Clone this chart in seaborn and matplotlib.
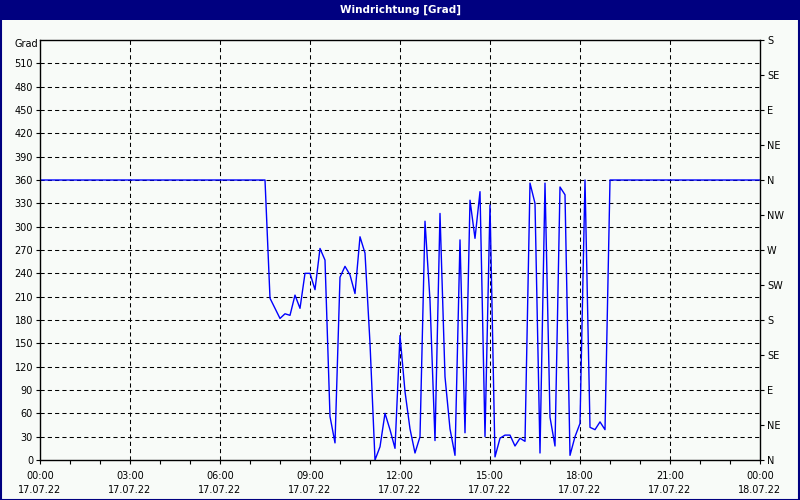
import matplotlib
matplotlib.use("Agg")
import matplotlib.pyplot as plt
import seaborn as sns
import pandas as pd
from matplotlib.patches import Rectangle

# ---- data ----
times = ["00:00", "07:30", "07:40", "07:50", "08:00", "08:10", "08:20", "08:30", "08:40",
         "08:50", "09:00", "09:10", "09:20", "09:30", "09:40", "09:50", "10:00", "10:10",
         "10:20", "10:30", "10:40", "10:50", "11:00", "11:10", "11:20", "11:30", "11:40",
         "11:50", "12:00", "12:10", "12:20", "12:30", "12:40", "12:50", "13:00", "13:10",
         "13:20", "13:30", "13:40", "13:50", "14:00", "14:10", "14:20", "14:30", "14:40",
         "14:50", "15:00", "15:10", "15:20", "15:30", "15:40", "15:50", "16:00", "16:10",
         "16:20", "16:30", "16:40", "16:50", "17:00", "17:10", "17:20", "17:30", "17:40",
         "17:50", "18:00", "18:10", "18:20", "18:30", "18:40", "18:50", "19:00", "24:00"]
direction = [360, 360, 208, 195, 182, 188, 186, 212, 195,
             240, 240, 219, 272, 257, 56, 22, 235, 249,
             238, 214, 287, 266, 150, 0, 17, 60, 39,
             15, 160, 88, 40, 9, 30, 307, 205, 25,
             317, 107, 40, 6, 283, 35, 334, 285, 345,
             30, 328, 4, 28, 32, 32, 18, 28, 24,
             356, 330, 9, 356, 55, 18, 351, 341, 6,
             30, 47, 360, 42, 39, 49, 39, 360, 360]

y_ticks = list(range(0, 511, 30))
x_tick_hours = list(range(0, 25, 3))
x_tick_labels = ["00:00\n17.07.22", "03:00\n17.07.22", "06:00\n17.07.22", "09:00\n17.07.22",
                 "12:00\n17.07.22", "15:00\n17.07.22", "18:00\n17.07.22", "21:00\n17.07.22",
                 "00:00\n18.07.22"]
compass_ticks = list(range(0, 541, 45))
compass_labels = ["N", "NE", "E", "SE", "S", "SW", "W", "NW", "N", "NE", "E", "SE", "S"]
title = "Windrichtung [Grad]"
unit = "Grad"

# ---- figure ----
sns.set_style("white")
plt.rcParams["font.family"] = ["DejaVu Sans"]
plt.rcParams["text.color"] = "black"
plt.rcParams["xtick.color"] = "black"
plt.rcParams["ytick.color"] = "black"

hours = [int(t.split(":")[0]) + int(t.split(":")[1]) / 60 for t in times]
df = pd.DataFrame({"hour": hours, "deg": direction})

bg = "#F8FBF8"
navy = "#000080"
fig = plt.figure(figsize=(8, 5), dpi=100, facecolor=bg)
ax = fig.add_axes([0.05, 0.08, 0.9, 0.84], facecolor=bg)

sns.lineplot(data=df, x="hour", y="deg", ax=ax, color="#0000FF", linewidth=1.0,
             estimator=None, sort=False)

ax.set_xlim(0, 24)
ax.set_ylim(0, 540)
ax.set_xlabel("")
ax.set_ylabel("")

dash = (0, (4, 3))
for v in y_ticks[1:]:
    ax.axhline(v, color="black", lw=0.75, linestyle=dash, zorder=0)
for h in x_tick_hours[1:-1]:
    ax.axvline(h, color="black", lw=0.75, linestyle=dash, zorder=0)

ax.set_yticks(y_ticks)
ax.set_yticklabels([str(v) for v in y_ticks], fontsize=7, color="black")
ax.set_xticks(x_tick_hours)
ax.set_xticks(range(0, 25), minor=True)
ax.set_xticklabels(x_tick_labels, fontsize=7, linespacing=1.5, color="black")
ax.tick_params(axis="both", which="both", direction="out", length=3, width=0.8,
               color="black", labelcolor="black", pad=2, left=True, bottom=True)
ax.tick_params(axis="x", which="major", pad=5)
for s in ax.spines.values():
    s.set_color("black")
    s.set_linewidth(1.0)
    s.set_visible(True)

ax2 = ax.twinx()
ax2.set_ylim(0, 540)
ax2.set_yticks(compass_ticks)
ax2.set_yticklabels(compass_labels, fontsize=7, color="black")
ax2.tick_params(axis="y", direction="out", length=3, width=0.8, color="black",
                labelcolor="black", pad=2, right=True)
for s in ax2.spines.values():
    s.set_visible(False)

fig.text(38 / 800, 1 - 44 / 500, unit, ha="right", va="center", fontsize=7, color="black")

# title bar and border
fig.patches.append(Rectangle((0, 1 - 20 / 500), 1, 20 / 500, transform=fig.transFigure,
                             facecolor=navy, edgecolor="none", zorder=0))
fig.patches.append(Rectangle((0.0008, 0.001), 0.9984, 0.997, transform=fig.transFigure,
                             facecolor="none", edgecolor=navy, linewidth=1.5, zorder=5))
fig.text(0.5, 1 - 10 / 500, title, ha="center", va="center", fontsize=7.5,
         color="white", fontweight="bold")

fig.savefig("out.png", dpi=100, facecolor=bg)
